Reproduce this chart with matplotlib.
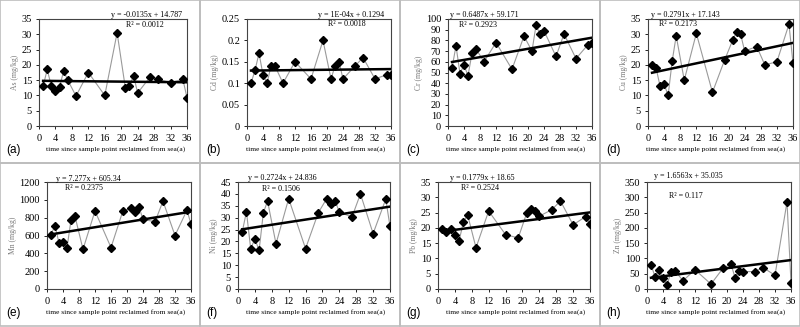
import numpy as np
import matplotlib.pyplot as plt
from matplotlib.patches import Rectangle

# years since reclamation (same sample points in every panel)
years = [1, 2, 3, 4, 5, 6, 7, 9, 12, 16, 19, 21, 22, 23, 24, 27, 29, 32, 35, 36]

as_vals = [13, 18.5, 13, 11.5, 12.8, 18, 15, 9.8, 17.5, 10, 30.5, 12.5, 13.2, 16.5, 10.8, 16, 15.3, 14.2, 15.3, 9.2]
cd_vals = [0.10, 0.13, 0.17, 0.12, 0.10, 0.14, 0.14, 0.10, 0.15, 0.11, 0.20, 0.11, 0.14, 0.15, 0.11, 0.14, 0.16, 0.11, 0.12, 0.12]
cr_vals = [54, 75, 49, 57, 47, 68, 72, 60, 78, 53, 84, 70, 94, 86, 89, 65, 86, 63, 76, 78]
cu_vals = [20, 19, 13, 13.7, 10, 21.2, 29.5, 15, 30.3, 11, 21.5, 28, 30.8, 30, 24.5, 26, 20, 21, 33.3, 20.5]
mn_vals = [610, 710, 515, 530, 460, 775, 815, 445, 875, 465, 880, 905, 865, 920, 780, 755, 985, 600, 885, 725]
ni_vals = [24, 32.5, 17, 21, 16.3, 32, 37, 19, 38, 17, 32, 38, 35.8, 37.2, 32.3, 30.3, 40, 23.3, 37.8, 26.3]
pb_vals = [19.5, 18.5, 19.7, 17.7, 15.8, 21.8, 24.3, 13.5, 25.5, 17.8, 16.7, 24.8, 26.3, 25.5, 23.8, 26, 28.8, 21, 23.7, 21.2]
zn_vals = [80, 40, 63, 35, 13, 57, 60, 27, 63, 16, 68, 82, 37, 60, 57, 57, 70, 45, 285, 20]

series = [as_vals, cd_vals, cr_vals, cu_vals, mn_vals, ni_vals, pb_vals, zn_vals]
metals = ["As", "Cd", "Cr", "Cu", "Mn", "Ni", "Pb", "Zn"]
panel_tags = ["(a)", "(b)", "(c)", "(d)", "(e)", "(f)", "(g)", "(h)"]

# linear trend lines as printed on the chart
slopes = [-0.0135, 1e-4, 0.6487, 0.2791, 7.277, 0.2724, 0.1779, 1.6563]
intercepts = [14.787, 0.1294, 59.171, 17.143, 605.34, 24.836, 18.65, 35.035]
eq_labels = ["y = -0.0135x + 14.787", "y = 1E-04x + 0.1294", "y = 0.6487x + 59.171",
             "y = 0.2791x + 17.143", "y = 7.277x + 605.34", "y = 0.2724x + 24.836",
             "y = 0.1779x + 18.65", "y = 1.6563x + 35.035"]
r2_labels = ["R² = 0.0012", "R² = 0.0018", "R² = 0.2923", "R² = 0.2173",
             "R² = 0.2375", "R² = 0.1506", "R² = 0.2524", "R² = 0.117"]

ymax = [35, 0.25, 100, 35, 1200, 45, 35, 350]
nticks = [7, 5, 10, 7, 6, 9, 7, 7]
xticks = [0, 4, 8, 12, 16, 20, 24, 28, 32, 36]

# layout in pixels (inside each 200px panel)
axes_lr = [(39, 187), (47, 191), (48, 192), (48, 193), (47, 191), (38, 190), (38, 190), (47, 191)]
eq_pos = [(147, 15), (151, 15), (84, 15), (85, 15), (88, 16), (82, 15), (82, 15), (88, 13)]
r2_pos = [(145, 25), (147, 24), (78, 25), (78, 24), (84, 25), (81, 26), (80, 25), (86, 33)]

W, H = 800, 327
serif = "Liberation Serif"

fig = plt.figure(figsize=(8, 3.27), dpi=100)

for i in range(8):
    col, row = i % 4, i // 4
    ox, oy = col * 200, row * 163
    l, r = axes_lr[i]
    t, b = oy + 19, oy + 126
    ax = fig.add_axes([(ox + l) / W, 1 - b / H, (r - l) / W, (b - t) / H])

    ax.plot(years, series[i], color="#9a9a9a", lw=0.8, zorder=2)
    ax.plot(years, series[i], "D", color="black", ms=3.6, zorder=3)
    xs = np.array([years[0], years[-1]])
    ax.plot(xs, slopes[i] * xs + intercepts[i], color="black", lw=1.8, zorder=4)

    ax.set_xlim(0, 36)
    ax.set_ylim(0, ymax[i])
    ax.set_xticks(xticks)
    yt = np.linspace(0, ymax[i], nticks[i] + 1)
    ax.set_yticks(yt)
    ax.set_yticklabels(["{:g}".format(round(v, 4)) for v in yt])
    for lab in ax.get_xticklabels() + ax.get_yticklabels():
        lab.set_fontfamily(serif)
        lab.set_fontsize(7.5)
    ax.tick_params(axis="x", length=2, width=0.6, pad=3.5)
    ax.tick_params(axis="y", length=2, width=0.6, pad=3)
    for sp in ax.spines.values():
        sp.set_linewidth(0.8)
        sp.set_color("#444444")

    ax.set_ylabel(metals[i] + " (mg/kg)", fontfamily=serif, fontsize=5.5, color="#777777", labelpad=2)

    fig.text((ox + 116) / W, 1 - (oy + 149) / H, "time since sample point reclaimed from sea(a)",
             fontfamily=serif, fontsize=5.4, ha="center", va="center")
    fig.text((ox + 6) / W, 1 - (oy + 150) / H, panel_tags[i], fontfamily="Liberation Sans",
             fontsize=8.5, ha="left", va="center")
    ex, ey = eq_pos[i]
    fig.text((ox + ex) / W, 1 - (oy + ey) / H, eq_labels[i], fontfamily=serif,
             fontsize=5.8, ha="center", va="center")
    rx, ry = r2_pos[i]
    fig.text((ox + rx) / W, 1 - (oy + ry) / H, r2_labels[i], fontfamily=serif,
             fontsize=5.8, ha="center", va="center")

    # grey panel frame
    fig.add_artist(Rectangle((ox / W, 1 - (oy + 163) / H), 200 / W, 163 / H,
                             transform=fig.transFigure, fill=False, ec="#bdbdbd", lw=1.2))

fig.savefig("out.png", dpi=100)
